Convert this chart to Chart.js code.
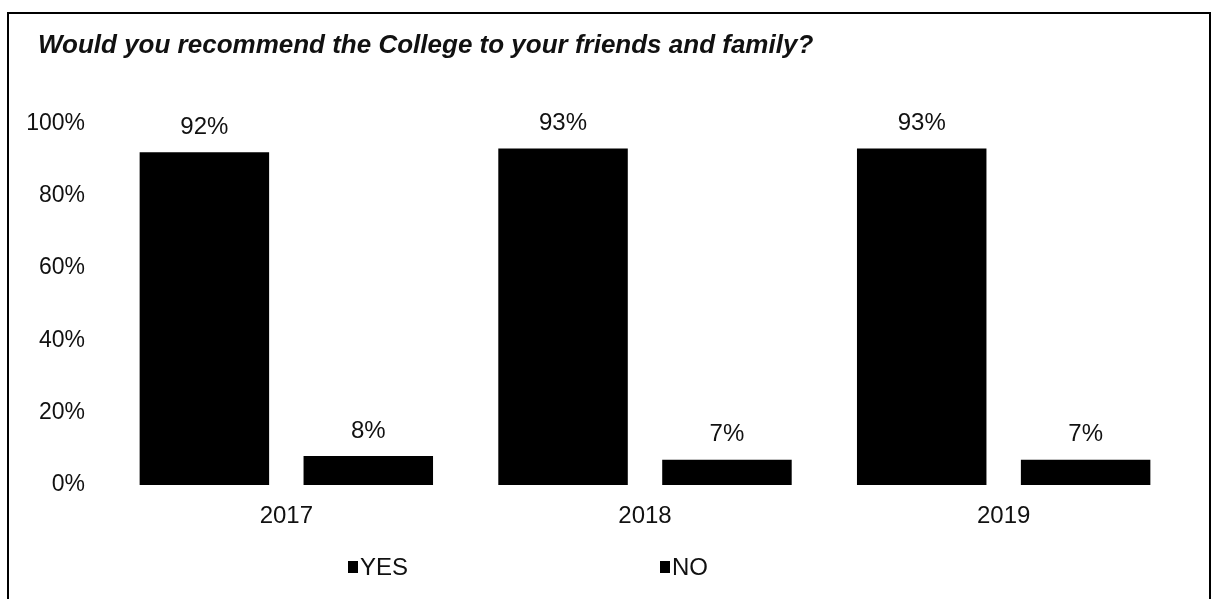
<!DOCTYPE html>
<html>
<head>
<meta charset="utf-8">
<script src="https://cdn.jsdelivr.net/npm/chart.js@4"></script>
<style>
  html, body { margin: 0; padding: 0; background: #fff; }
  #frame {
    position: absolute; left: 7px; top: 12px;
    width: 1200px; height: 600px;
    border: 2px solid #000;
    background: #fff;
  }
  #chart { display: block; }
</style>
</head>
<body>
<div id="frame"><canvas id="chart" width="1200" height="586"></canvas></div>
<script>
// 데이터
const years = ['2017', '2018', '2019'];
const yesValues = [92, 93, 93];
const noValues = [8, 7, 7];
const seriesNames = ['YES', 'NO'];
const yTicks = [0, 20, 40, 60, 80, 100];

const FONT = '"Liberation Sans", Arial, sans-serif';

// 막대 위 퍼센트 라벨
const valueLabels = {
    id: 'valueLabels',
    afterDatasetsDraw(chart) {
        const ctx = chart.ctx;
        ctx.save();
        ctx.font = `24px ${FONT}`;
        ctx.fillStyle = '#111';
        ctx.textAlign = 'center';
        ctx.textBaseline = 'middle';
        chart.data.datasets.forEach((ds, i) => {
            chart.getDatasetMeta(i).data.forEach((bar, j) => {
                ctx.fillText(ds.data[j] + '%', bar.x, bar.y - 25);
            });
        });
        ctx.restore();
    }
};

// 제목을 오른쪽으로 살짝 이동
const titleShift = {
    id: 'titleShift',
    afterLayout(chart) {
        if (chart.titleBlock) {
            chart.titleBlock.left += 29;
            chart.titleBlock.right += 29;
        }
    }
};

// 하단 범례 (엑셀처럼 간격 넓게)
const spreadLegend = {
    id: 'spreadLegend',
    afterDraw(chart) {
        const ctx = chart.ctx;
        const y = chart.chartArea.bottom + 82;
        const xs = [339, 651];
        ctx.save();
        ctx.font = `24px ${FONT}`;
        ctx.textBaseline = 'middle';
        ctx.textAlign = 'left';
        chart.data.datasets.forEach((ds, i) => {
            ctx.fillStyle = ds.backgroundColor;
            ctx.fillRect(xs[i], y - 6, 10, 12);
            ctx.fillStyle = '#111';
            ctx.fillText(ds.label, xs[i] + 12, y + 1);
        });
        ctx.restore();
    }
};

new Chart(document.getElementById('chart'), {
    type: 'bar',
    data: {
        labels: years,
        datasets: [
            { label: seriesNames[0], data: yesValues, backgroundColor: '#000' },
            { label: seriesNames[1], data: noValues, backgroundColor: '#000' }
        ]
    },
    options: {
        responsive: false,
        animation: false,
        events: [],
        layout: { padding: { left: 0, right: 26, top: 0, bottom: 55 } },
        datasets: {
            bar: { categoryPercentage: 0.914, barPercentage: 0.79 }
        },
        plugins: {
            legend: { display: false },
            tooltip: { enabled: false },
            title: {
                display: true,
                align: 'start',
                text: 'Would you recommend the College to your friends and family?',
                color: '#111',
                font: { family: FONT, size: 26, weight: 'bold', style: 'italic' },
                padding: { top: 16, bottom: 62 }
            }
        },
        scales: {
            x: {
                grid: { display: false, drawTicks: false },
                border: { display: false },
                ticks: { color: '#111', font: { family: FONT, size: 24 }, padding: 17 },
                afterFit(scale) { scale.height = 60; }
            },
            y: {
                min: 0,
                max: 100,
                afterBuildTicks(scale) { scale.ticks = yTicks.map(v => ({ value: v })); },
                grid: { display: false, drawTicks: false },
                border: { display: false },
                ticks: {
                    color: '#111',
                    font: { family: FONT, size: 23 },
                    padding: 22,
                    callback: v => v + '%'
                },
                afterFit(scale) { scale.width = 98; }
            }
        }
    },
    plugins: [valueLabels, titleShift, spreadLegend]
});
</script>
</body>
</html>
